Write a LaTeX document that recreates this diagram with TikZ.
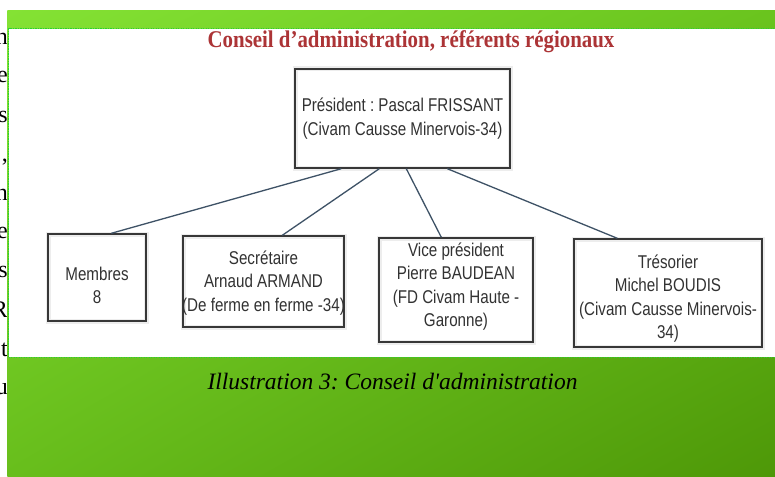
\documentclass[tikz,border=0pt]{standalone}
\usepackage{fontspec}
\setmainfont{Liberation Serif}
\newfontfamily\boxfont{Liberation Sans}[FakeStretch=0.82]
\newfontfamily\titlefont{Liberation Serif}[FakeStretch=0.87]
\newfontfamily\capfont{Liberation Serif}[Mapping=]
\usetikzlibrary{calc,shadings}
\frenchspacing
\definecolor{gTL}{RGB}{132,226,52}
\definecolor{gTR}{RGB}{106,196,30}
\definecolor{gBL}{RGB}{104,190,28}
\definecolor{gBR}{RGB}{78,152,8}
\definecolor{dotgreen}{RGB}{40,210,50}
\definecolor{titlered}{RGB}{172,52,54}
\definecolor{boxline}{RGB}{55,55,55}
\definecolor{boxtext}{RGB}{50,50,50}
\definecolor{linkcol}{RGB}{62,82,102}
\begin{document}
\begin{tikzpicture}[x=1pt,y=-1pt,
  orgbox/.style={draw=boxline,line width=1.4pt,inner sep=0pt,
    preaction={draw=black!7,line width=5pt}},
  boxlabel/.style={font=\boxfont\fontsize{18.5}{23.5}\selectfont,text=boxtext,align=center,inner sep=0pt},
  link/.style={draw=linkcol,line width=1.3pt},
  edgeletter/.style={anchor=base east,inner sep=0pt,font=\fontsize{24}{24}\selectfont}]
\useasboundingbox (0,0) rectangle (775,476);
\fill[white] (0,0) rectangle (775,476);
% left cut text
\begin{scope}
\clip (0,0) rectangle (7.3,476);
\node[edgeletter] (l1) at (8,45) {n};
\node[edgeletter] (l2) at (8,83) {e};
\node[edgeletter] (l3) at (8,122) {s};
\node[edgeletter] (l4) at (8,161) {,};
\node[edgeletter] (l5) at (8,200) {n};
\node[edgeletter] (l6) at (8,238) {e};
\node[edgeletter] (l7) at (8,277) {s};
\node[edgeletter] (l8) at (8,317) {R};
\node[edgeletter] (l9) at (8,356) {t};
\node[edgeletter] (l10) at (8,394) {u};
\end{scope}
% green frame
\shade[upper left=gTL,upper right=gTR,lower left=gBL,lower right=gBR] (7.3,11) rectangle (775,476);
\fill[white] (8.5,29) rectangle (775,357);
\draw[dotgreen,line width=1pt,dash pattern=on 1.2pt off 1.3pt] (8.5,357) -- (8.5,29) -- (775,29);
\draw[dotgreen,line width=1pt,dash pattern=on 1.2pt off 1.3pt] (8.5,357) -- (775,357);
% title
\node[font=\titlefont\bfseries\fontsize{24}{24}\selectfont,text=titlered,inner sep=0pt] (title) at (411,42) {Conseil d’administration, référents régionaux};
% boxes
\node[orgbox,minimum width=215pt,minimum height=99pt] (pres) at (402.5,118.5) {};
\node[orgbox,minimum width=98pt,minimum height=87pt] (memb) at (97,277.5) {};
\node[orgbox,minimum width=161pt,minimum height=91pt] (secr) at (263.5,281.5) {};
\node[orgbox,minimum width=154pt,minimum height=104pt] (vice) at (456,290) {};
\node[orgbox,minimum width=188pt,minimum height=108pt] (tres) at (668,293) {};
% labels
\node[boxlabel] (presT) at (402.5,118.5) {Président : Pascal FRISSANT\\(Civam Causse Minervois-34)};
\node[boxlabel] (membT) at (97,285.5) {Membres\\8};
\node[boxlabel] (secrT) at (263.5,283) {Secrétaire\\Arnaud ARMAND\\(De ferme en ferme -34)};
\node[boxlabel] (viceT) at (456,286.5) {Vice président\\Pierre BAUDEAN\\(FD Civam Haute -\\Garonne)};
\node[boxlabel] (tresT) at (668,298.5) {Trésorier\\Michel BOUDIS\\(Civam Causse Minervois-\\34)};
% connectors
\draw[link] ($(pres.south west)+(47,0)$) -- ($(memb.north west)+(64,0)$);
\draw[link] ($(pres.south west)+(85,0)$) -- ($(secr.north west)+(100,0)$);
\draw[link] ($(pres.south west)+(112,0)$) -- ($(vice.north west)+(63,0)$);
\draw[link] ($(pres.south west)+(153,0)$) -- ($(tres.north west)+(44,0)$);
% caption
\node[font=\capfont\itshape\fontsize{23.5}{25}\selectfont,inner sep=0pt] (caption) at (392.5,382) {Illustration 3: Conseil d'administration};
\end{tikzpicture}
\end{document}
